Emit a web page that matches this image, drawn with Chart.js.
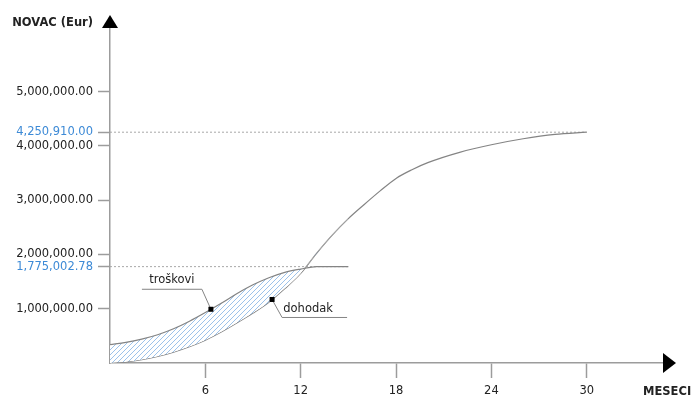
<!DOCTYPE html>
<html>
<head>
<meta charset="utf-8">
<script src="https://cdn.jsdelivr.net/npm/chart.js@4.4.0/dist/chart.umd.min.js"></script>
<style>
  html, body { margin: 0; padding: 0; background: #fff; }
  #wrap { width: 691px; height: 396px; }
</style>
</head>
<body>
<div id="wrap"><canvas id="chart" width="691" height="396"></canvas></div>
<script>
// troškovi (costs)
const costMonths = [0, 1, 2, 3, 4, 5, 6, 7, 8, 9, 10, 11, 12, 13, 15];
const costValues = [340000, 380000, 440000, 520000, 630000, 770000, 930000, 1100000,
  1280000, 1440000, 1570000, 1670000, 1730000, 1775002.78, 1775002.78];

// dohodak (income)
const incomeMonths = [0, 1, 2, 3, 4, 5, 6, 7, 8, 9, 10, 11, 12, 13, 14, 15, 16, 17, 18, 19, 20, 22, 24, 26, 28, 30];
const incomeValues = [0, 20000, 60000, 120000, 200000, 300000, 420000, 570000, 740000, 920000,
  1120000, 1370000, 1650000, 2020000, 2360000, 2660000, 2920000, 3170000, 3400000,
  3560000, 3690000, 3880000, 4020000, 4130000, 4210000, 4250910];

// reference levels (dotted lines + blue tick labels)
const markLevels = [4250910, 1775002.78];
const markEnds = [30, 15];

const xTicks = [6, 12, 18, 24, 30];
const yTicks = [1000000, 2000000, 3000000, 4000000, 5000000];

const curveLabels = ['troškovi', 'dohodak'];
const curveLabelMonths = [6.35, 10.2];

const gray = '#848484';
const axisGray = '#9c9c9c';
const blue = '#3d8ad6';
const FONT = 'DejaVu Sans';

function hatch() {
  const c = document.createElement('canvas');
  c.width = 5; c.height = 5;
  const g = c.getContext('2d');
  g.fillStyle = '#ffffff';
  g.fillRect(0, 0, 5, 5);
  g.strokeStyle = '#9cc2ea';
  g.lineWidth = 1;
  g.beginPath();
  g.moveTo(-1, 6); g.lineTo(6, -1);
  g.moveTo(-1, 1); g.lineTo(1, -1);
  g.moveTo(4, 6); g.lineTo(6, 4);
  g.stroke();
  return g.createPattern(c, 'repeat');
}

function interp(xs, ys, x) {
  for (let i = 1; i < xs.length; i++) {
    if (x <= xs[i]) {
      const t = (x - xs[i - 1]) / (xs[i] - xs[i - 1]);
      return ys[i - 1] + t * (ys[i] - ys[i - 1]);
    }
  }
  return ys[ys.length - 1];
}

const fmt = v => v.toLocaleString('en-US', { minimumFractionDigits: 2, maximumFractionDigits: 2 });

const decorations = {
  id: 'decorations',
  afterDraw(chart) {
    const ctx = chart.ctx;
    const a = chart.chartArea;
    const xs = chart.scales.x, ys = chart.scales.y;
    ctx.save();

    // axis arrows
    ctx.fillStyle = '#000';
    ctx.beginPath();
    ctx.moveTo(a.left, a.top - 13);
    ctx.lineTo(a.left - 8, a.top);
    ctx.lineTo(a.left + 8, a.top);
    ctx.closePath();
    ctx.fill();
    ctx.beginPath();
    ctx.moveTo(a.right + 13, a.bottom);
    ctx.lineTo(a.right, a.bottom - 10);
    ctx.lineTo(a.right, a.bottom + 10);
    ctx.closePath();
    ctx.fill();

    // axis titles
    ctx.fillStyle = '#222';
    ctx.font = 'bold 11.5px "' + FONT + '"';
    ctx.textBaseline = 'middle';
    ctx.textAlign = 'right';
    ctx.fillText('NOVAC (Eur)', a.left - 17, a.top - 5);
    ctx.textAlign = 'left';
    ctx.fillText('MESECI', a.right - 20, a.bottom + 29);

    // curve labels with leader lines
    ctx.font = '11.5px "' + FONT + '"';
    ctx.strokeStyle = gray;
    ctx.lineWidth = 1;

    const m0 = curveLabelMonths[0];
    const p0x = xs.getPixelForValue(m0);
    const p0y = ys.getPixelForValue(interp(costMonths, costValues, m0));
    ctx.beginPath();
    ctx.moveTo(p0x, p0y);
    ctx.lineTo(p0x - 9, p0y - 20);
    ctx.lineTo(p0x - 69, p0y - 20);
    ctx.stroke();
    ctx.fillStyle = '#000';
    ctx.fillRect(p0x - 2.5, p0y - 2.5, 5, 5);
    ctx.fillStyle = '#222';
    ctx.textAlign = 'center';
    ctx.fillText(curveLabels[0], p0x - 39, p0y - 29);

    const m1 = curveLabelMonths[1];
    const p1x = xs.getPixelForValue(m1);
    const p1y = ys.getPixelForValue(interp(incomeMonths, incomeValues, m1));
    ctx.beginPath();
    ctx.moveTo(p1x, p1y);
    ctx.lineTo(p1x + 10, p1y + 18);
    ctx.lineTo(p1x + 75, p1y + 18);
    ctx.stroke();
    ctx.fillStyle = '#000';
    ctx.fillRect(p1x - 2.5, p1y - 2.5, 5, 5);
    ctx.fillStyle = '#222';
    ctx.fillText(curveLabels[1], p1x + 36, p1y + 10);

    ctx.restore();
  }
};

const hatchPattern = hatch();

const datasets = [
  {
    label: curveLabels[0],
    data: costMonths.map((m, i) => ({ x: m, y: costValues[i] })),
    borderColor: gray,
    borderWidth: 1.2,
    pointRadius: 0,
    cubicInterpolationMode: 'monotone',
    fill: { target: 1, above: hatchPattern, below: 'rgba(0,0,0,0)' }
  },
  {
    label: curveLabels[1],
    data: incomeMonths.map((m, i) => ({ x: m, y: incomeValues[i] })),
    borderColor: gray,
    borderWidth: 1.2,
    pointRadius: 0,
    cubicInterpolationMode: 'monotone',
    fill: false
  }
];
markLevels.forEach((v, i) => {
  datasets.push({
    label: 'ref' + i,
    data: [{ x: 0, y: v }, { x: markEnds[i], y: v }],
    borderColor: '#a8a8a8',
    borderWidth: 1,
    borderDash: [2, 2],
    pointRadius: 0,
    fill: false
  });
});

new Chart(document.getElementById('chart'), {
  type: 'line',
  data: { datasets },
  options: {
    responsive: false,
    animation: false,
    events: [],
    layout: { padding: { top: 28, right: 28, left: 0, bottom: 0 } },
    plugins: { legend: { display: false }, tooltip: { enabled: false } },
    scales: {
      x: {
        type: 'linear',
        min: 0,
        max: 34.8,
        afterBuildTicks: s => { s.ticks = xTicks.map(v => ({ value: v })); },
        afterFit: s => { s.height = 33; },
        border: { color: axisGray, width: 1.5 },
        grid: { drawOnChartArea: false, tickLength: 15, tickColor: axisGray, tickWidth: 1.5 },
        ticks: { autoSkip: false, maxRotation: 0, padding: 6, color: '#222',
          font: { family: FONT, size: 11.5 } }
      },
      y: {
        min: 0,
        max: 6170000,
        afterBuildTicks: s => {
          s.ticks = yTicks.concat(markLevels).sort((a, b) => a - b).map(v => ({ value: v }));
        },
        afterFit: s => { s.width = 110; },
        border: { color: axisGray, width: 1.5 },
        grid: { drawOnChartArea: false, tickLength: 12, tickColor: axisGray, tickWidth: 1.5 },
        ticks: {
          autoSkip: false,
          padding: 5,
          font: { family: FONT, size: 11.5 },
          color: c => markLevels.includes(c.tick.value) ? blue : '#222',
          callback: v => fmt(v)
        }
      }
    }
  },
  plugins: [decorations]
});
</script>
</body>
</html>
